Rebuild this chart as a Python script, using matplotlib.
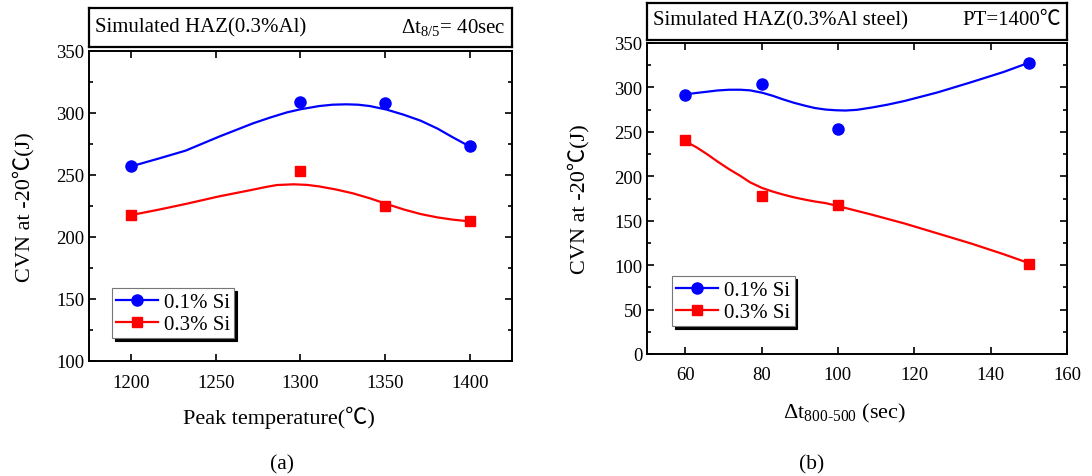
import matplotlib
matplotlib.use('Agg')
import matplotlib.pyplot as plt
from matplotlib.ticker import MultipleLocator

plt.rcParams['font.family'] = ['Liberation Serif', 'Noto Sans CJK SC']
plt.rcParams['mathtext.fontset'] = 'custom'
plt.rcParams['mathtext.rm'] = 'Liberation Serif'
plt.rcParams['mathtext.it'] = 'Liberation Serif:italic'
plt.rcParams['mathtext.default'] = 'rm'

# ---- panel (a): peak temperature ----
peak_temp = [1200, 1300, 1350, 1400]
si01_a = [257, 309, 308, 273]
si03_a = [218, 253, 225, 213]

# smoothed fit curves
fit_x_a_01 = [1200, 1216, 1232, 1252, 1272, 1282, 1292, 1300, 1311, 1319, 1327, 1334, 1341,
              1351, 1361, 1371, 1381, 1390, 1400]
fit_y_a_01 = [257, 263.2, 269.6, 281, 291.7, 296.3, 300.5, 303, 305.6, 306.7, 307, 306.7, 305.6,
              302.7, 298.6, 293.8, 287.4, 280.4, 273]
fit_x_a_03 = [1200, 1216, 1232, 1252, 1272, 1279, 1286, 1296, 1304, 1311, 1321, 1331, 1341,
              1351, 1361, 1371, 1381, 1390, 1400]
fit_y_a_03 = [217.7, 222, 226.6, 232.8, 238.2, 240.2, 241.9, 242.5, 242, 240.8, 238.3, 235.2, 231.2,
              226.6, 222.2, 218.5, 215.8, 214, 212.6]

# ---- panel (b): cooling time ----
cool_time = [60, 80, 100, 150]
si01_b = [291, 304, 253, 327]
si03_b = [241, 178, 168, 101]

fit_x_b_01 = [60, 63, 65.8, 68.5, 71.5, 74.5, 77, 80.1, 83, 85.6, 88.5, 91.6, 94, 96.8, 99.5,
              102, 105, 108.9, 113, 117.5, 126.1, 134.7, 143.4, 150]
fit_y_b_01 = [292.2, 293.8, 295.2, 296.6, 297.4, 297.4, 296.7, 294.1, 290.5, 286.6, 282.7, 279.2,
              276.8, 275.1, 274.3, 274, 274.8, 277.4, 280.6, 284.8, 294.4, 305.6, 317.4, 327.8]
fit_x_b_03 = [60, 63, 65.8, 68.5, 71.5, 74.5, 77, 80.1, 83, 85.6, 88.5, 91.6, 94, 96.8, 100,
              108.9, 117.5, 126.1, 134.7, 143.4, 150]
fit_y_b_03 = [239.5, 232.5, 224.7, 216.5, 208, 200.3, 193.2, 186.9, 182.7, 179.5, 176.3, 173.5,
              171.6, 169.8, 166.5, 156.8, 146.8, 135.7, 124.6, 112.3, 102.3]

W, H = 1092, 477
fig = plt.figure(figsize=(W / 100, H / 100), dpi=100)


def px(x0, y0, x1, y1):
    return [x0 / W, 1 - y1 / H, (x1 - x0) / W, (y1 - y0) / H]


def style_axes(ax):
    for s in ax.spines.values():
        s.set_linewidth(1.4)
    ax.tick_params(which='both', direction='in', top=True, right=True,
                   labelsize=13.5, width=1.2)
    ax.tick_params(which='major', length=5)
    ax.tick_params(which='minor', length=3)
    ax.tick_params(axis='x', pad=9)


def header(rect, left_txt, right_txt, yc):
    hx = fig.add_axes(rect)
    hx.set_xticks([])
    hx.set_yticks([])
    for s in hx.spines.values():
        s.set_linewidth(1.6)
    hx.text(0.015, yc, left_txt, transform=hx.transAxes, fontsize=15, va='center', ha='left')
    hx.text(0.985, yc, right_txt, transform=hx.transAxes, fontsize=15, va='center', ha='right')


def add_legend(ax, anchor):
    leg = ax.legend(loc='lower left', bbox_to_anchor=anchor, borderaxespad=0,
                    fontsize=15, numpoints=1, handlelength=2.0, handletextpad=0.3,
                    fancybox=False, edgecolor='#777777', framealpha=1,
                    borderpad=0.2, labelspacing=0.1,
                    shadow={'color': 'black', 'alpha': 1})
    leg.get_frame().set_linewidth(0.8)


# panel (a)
ax1 = fig.add_axes(px(89, 52, 512, 362))
ax1.plot(fit_x_a_01, fit_y_a_01, color='#0000ff', lw=1.6)
ax1.plot(fit_x_a_03, fit_y_a_03, color='#ff0000', lw=1.6)
ax1.plot(peak_temp, si01_a, 'o', color='#0000ff', ms=8)
ax1.plot(peak_temp, si03_a, 's', color='#ff0000', ms=7)
ax1.plot([], [], '-o', color='#0000ff', lw=1.6, ms=8, label='0.1% Si')
ax1.plot([], [], '-s', color='#ff0000', lw=1.6, ms=7, label='0.3% Si')
ax1.set_xlim(1175, 1425)
ax1.set_ylim(100, 350)
ax1.xaxis.set_major_locator(MultipleLocator(50))
ax1.yaxis.set_major_locator(MultipleLocator(50))
ax1.yaxis.set_minor_locator(MultipleLocator(25))
style_axes(ax1)
ax1.set_xlabel('Peak temperature(℃)', fontsize=16)
ax1.set_ylabel('CVN at -20℃(J)', fontsize=16)
ax1.xaxis.set_label_coords(0.45, -0.145)
ax1.yaxis.set_label_coords(-0.13, 0.5)
add_legend(ax1, (0.054, 0.074))
header(px(89, 9, 512, 48), 'Simulated HAZ(0.3%Al)', r'$\Delta$t$_{8/5}$= 40sec', 0.52)
fig.text(282 / W, 1 - 465 / H, '(a)', fontsize=15.5, ha='center', va='center')

# panel (b)
ax2 = fig.add_axes(px(647, 44, 1067, 355))
ax2.plot(fit_x_b_01, fit_y_b_01, color='#0000ff', lw=1.6)
ax2.plot(fit_x_b_03, fit_y_b_03, color='#ff0000', lw=1.6)
ax2.plot(cool_time, si01_b, 'o', color='#0000ff', ms=8)
ax2.plot(cool_time, si03_b, 's', color='#ff0000', ms=7)
ax2.plot([], [], '-o', color='#0000ff', lw=1.6, ms=8, label='0.1% Si')
ax2.plot([], [], '-s', color='#ff0000', lw=1.6, ms=7, label='0.3% Si')
ax2.set_xlim(50, 160)
ax2.set_ylim(0, 350)
ax2.xaxis.set_major_locator(MultipleLocator(20))
ax2.yaxis.set_major_locator(MultipleLocator(50))
ax2.yaxis.set_minor_locator(MultipleLocator(25))
style_axes(ax2)
ax2.set_xlabel(r'$\Delta$t$_{800\text{-}500}$ (sec)', fontsize=16)
ax2.set_ylabel('CVN at -20℃(J)', fontsize=16)
ax2.xaxis.set_label_coords(0.47, -0.15)
ax2.yaxis.set_label_coords(-0.137, 0.5)
add_legend(ax2, (0.06, 0.09))
header(px(647, 4, 1067, 41), 'Simulated HAZ(0.3%Al steel)', 'PT=1400℃', 0.55)
fig.text(812 / W, 1 - 465 / H, '(b)', fontsize=15.5, ha='center', va='center')

fig.savefig('out.png', dpi=100)
